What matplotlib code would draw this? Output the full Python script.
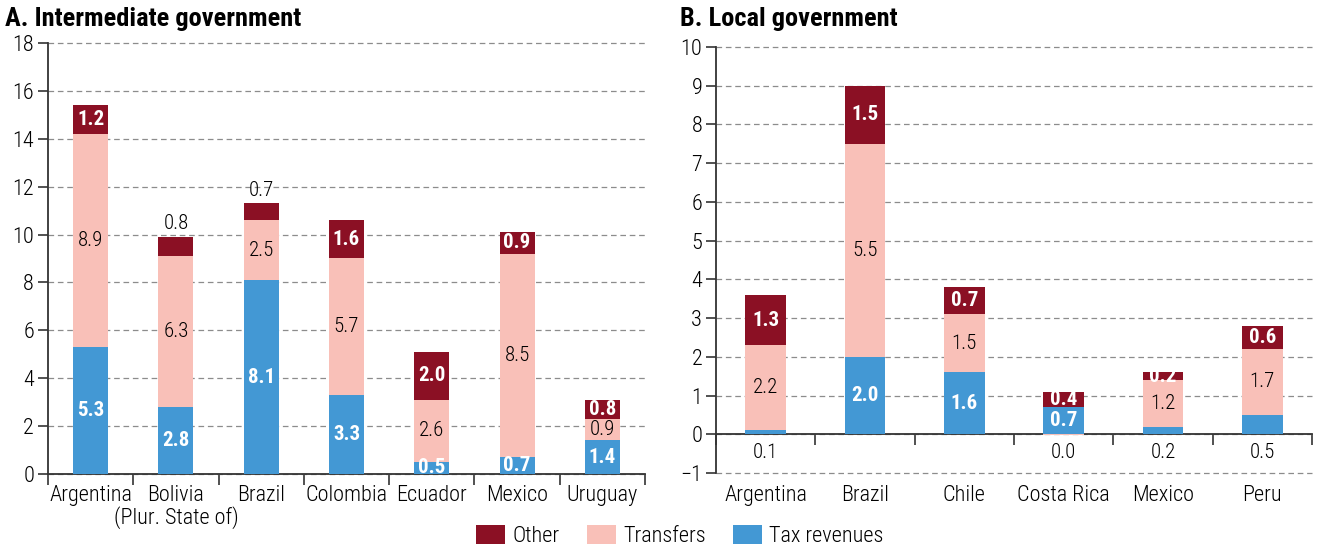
import matplotlib.pyplot as plt
from matplotlib.patches import Patch

# condensed face where available, DejaVu otherwise
plt.rcParams['font.family'] = ['Roboto Condensed', 'Archivo Narrow', 'PT Sans Narrow',
                               'Liberation Sans Narrow', 'DejaVu Sans']
plt.rcParams['font.weight'] = 'light'

# ---- data ----
countries_a = ["Argentina", "Bolivia", "Brazil", "Colombia",
               "Ecuador", "Mexico", "Uruguay"]
tax_a = [5.3, 2.8, 8.1, 3.3, 0.5, 0.7, 1.4]
transfers_a = [8.9, 6.3, 2.5, 5.7, 2.6, 8.5, 0.9]
other_a = [1.2, 0.8, 0.7, 1.6, 2.0, 0.9, 0.8]

countries_b = ["Argentina", "Brazil", "Chile", "Costa Rica", "Mexico", "Peru"]
tax_b = [0.1, 2.0, 1.6, 0.7, 0.2, 0.5]
transfers_b = [2.2, 5.5, 1.5, -0.03, 1.2, 1.7]
other_b = [1.3, 1.5, 0.7, 0.4, 0.2, 0.6]

series_names = ["Tax revenues", "Transfers", "Other"]
colors = {"Tax revenues": "#4398d4", "Transfers": "#f9c0b8", "Other": "#8b1024"}
label_style = {"Tax revenues": ("white", "bold"), "Transfers": ("black", "light"),
               "Other": ("white", "bold")}

# labels that sit outside their segment: (country index, series) -> where
outside_a = {(1, "Other"): "above", (2, "Other"): "above"}
outside_b = {(0, "Tax revenues"): "below", (3, "Transfers"): "below",
             (4, "Tax revenues"): "below", (5, "Tax revenues"): "below"}

LBL = 15
TXT = 16
W = 0.41


def fmt(v):
    s = f"{v:.1f}"
    return "0.0" if s == "-0.0" else s


def stacked(ax, data, outside):
    n = len(data["Tax revenues"])
    pos = [0.0] * n
    neg = [0.0] * n
    for name in series_names:
        vals = data[name]
        bases = [pos[i] if v >= 0 else neg[i] for i, v in enumerate(vals)]
        ax.bar(range(n), vals, bottom=bases, width=W, color=colors[name], zorder=3)
        for i, v in enumerate(vals):
            if v >= 0:
                pos[i] += v
            else:
                neg[i] += v
        for i, v in enumerate(vals):
            where = outside.get((i, name))
            if where == "above":
                ax.text(i, bases[i] + v + 0.15, fmt(v), ha="center", va="bottom",
                        fontsize=LBL, color="black", zorder=5)
            elif where == "below":
                ax.annotate(fmt(v), (i, 0), xytext=(0, -6), textcoords="offset points",
                            ha="center", va="top", fontsize=LBL, color="black", zorder=5)
            else:
                c, fw = label_style[name]
                ax.text(i, bases[i] + v / 2, fmt(v), ha="center", va="center",
                        fontsize=LBL, color=c, fontweight=fw, zorder=5)


def style_axis(ax, n, yticks):
    ax.set_xlim(-0.5, n - 0.5)
    ax.set_ylim(yticks[0], yticks[-1])
    ax.set_yticks(yticks)
    ax.tick_params(axis="y", length=7, width=1.2, labelsize=TXT, pad=3, color="#333333")
    ax.set_xticks([i - 0.5 for i in range(n + 1)], minor=True)
    ax.tick_params(axis="x", which="minor", length=8, width=1.2, direction="out",
                   color="#333333")
    ax.tick_params(axis="x", which="major", length=0, labelsize=TXT, pad=8)
    for s in ["top", "right"]:
        ax.spines[s].set_visible(False)
    for s in ["left", "bottom"]:
        ax.spines[s].set_linewidth(1.3)
        ax.spines[s].set_color("#333333")
    ax.yaxis.grid(True, linestyle=(0, (4.5, 3)), color="#8c8c8c", linewidth=0.9, zorder=0)
    for gl in ax.get_ygridlines():
        gl.set_clip_on(False)
    ax.set_axisbelow(True)


fig = plt.figure(figsize=(13.25, 5.47), dpi=100)

axA = fig.add_axes([0.0362, 0.1335, 0.4506, 0.7879])
stacked(axA, {"Tax revenues": tax_a, "Transfers": transfers_a, "Other": other_a}, outside_a)
style_axis(axA, len(countries_a), list(range(0, 19, 2)))
axA.set_xticks(range(len(countries_a)))
axA.set_xticklabels(countries_a)
axA.annotate("(Plur. State of)", (1, 0), xytext=(0, -23), textcoords="offset points",
             ha="center", va="top", fontsize=TXT, annotation_clip=False)

axB = fig.add_axes([0.5404, 0.1353, 0.4498, 0.7788])
stacked(axB, {"Tax revenues": tax_b, "Transfers": transfers_b, "Other": other_b}, outside_b)
style_axis(axB, len(countries_b), list(range(-1, 11)))
axB.spines["bottom"].set_position(("data", 0))
axB.set_xticks(range(len(countries_b)))
axB.set_xticklabels([])
for i, name in enumerate(countries_b):
    axB.annotate(name, (i, -1), xytext=(0, -9), textcoords="offset points",
                 ha="center", va="top", fontsize=TXT, annotation_clip=False)

fig.text(5 / 1325, 1 - 19 / 547, "A. Intermediate government", fontsize=19,
         fontweight="heavy", va="center", ha="left")
fig.text(680 / 1325, 1 - 19 / 547, "B. Local government", fontsize=19,
         fontweight="heavy", va="center", ha="left")

handles = [Patch(facecolor=colors[k]) for k in ["Other", "Transfers", "Tax revenues"]]
fig.legend(handles, ["Other", "Transfers", "Tax revenues"], loc="center",
           bbox_to_anchor=(680 / 1325, 1 - 536 / 547), ncol=3, frameon=False, fontsize=TXT,
           handlelength=1.3, handleheight=0.9, columnspacing=1.2, handletextpad=0.35)

fig.savefig("out.png", dpi=100)
